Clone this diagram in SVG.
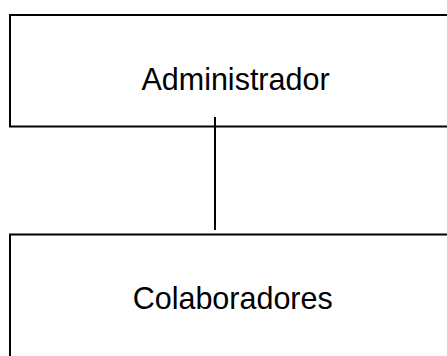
<svg xmlns="http://www.w3.org/2000/svg" width="447" height="356" viewBox="0 0 447 356">
<style>
.box{fill:#fff;stroke:#000;stroke-width:2}
.lbl{font-family:"Liberation Sans",Arial,sans-serif;font-size:30.5px;fill:#000;text-anchor:middle}
.conn{stroke:#000;stroke-width:2;fill:none}
</style>
<rect width="447" height="356" fill="#fff"/>
<g id="node-administrador">
<rect class="box" x="10" y="15" width="460" height="111.5"/>
<text class="lbl" x="235.5" y="89.5">Administrador</text>
</g>
<g id="node-colaboradores">
<rect class="box" x="10" y="234.5" width="460" height="140"/>
<text class="lbl" x="232.7" y="309.3">Colaboradores</text>
</g>
<g id="connectors">
<line class="conn" x1="215" y1="117" x2="215" y2="230"/>
</g>
</svg>
